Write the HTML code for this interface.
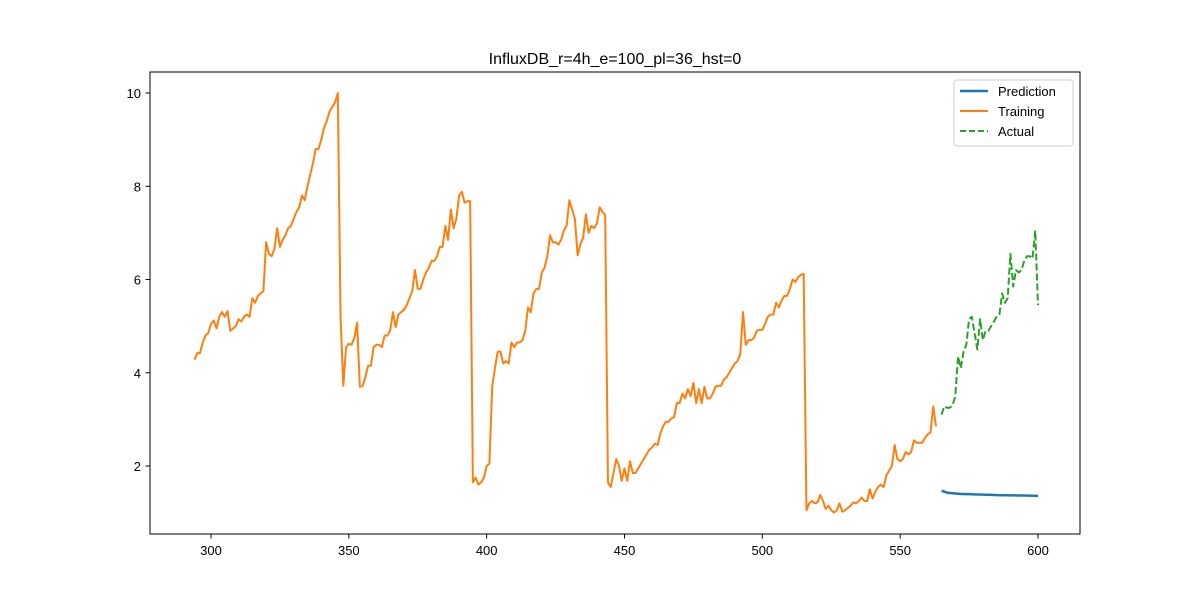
<!DOCTYPE html>
<html><head><meta charset="utf-8"><style>
body{margin:0;background:#fff;}
svg{font-family:"Liberation Sans","DejaVu Sans",sans-serif;}
</style></head><body>
<svg id="chart" width="1200" height="600" xmlns="http://www.w3.org/2000/svg">
<rect width="1200" height="600" fill="#fff"/>
<text x="615" y="64" font-size="16" text-anchor="middle" fill="#000">InfluxDB_r=4h_e=100_pl=36_hst=0</text>
<g id="axes"></g>
<g id="series"></g>
<rect x="150" y="72" width="930" height="462" fill="none" stroke="#000" stroke-width="1"/>
<g>
<rect x="954" y="80" width="119" height="66" fill="#fff" stroke="#ccc" rx="3"/>
<g><line x1="960" y1="91" x2="988" y2="91" stroke="#1f77b4" stroke-width="2.5"/><text x="998" y="96" font-size="13">Prediction</text></g>
<g><line x1="960" y1="111" x2="988" y2="111" stroke="#ff7f0e" stroke-width="2"/><text x="998" y="116" font-size="13">Training</text></g>
<g><line x1="960" y1="131" x2="988" y2="131" stroke="#2ca02c" stroke-width="2" stroke-dasharray="6,3"/><text x="998" y="136" font-size="13">Actual</text></g>
</g>
</svg>
<script>
const trainingStart = 294;
const trainingValues = [4.28,4.42,4.42,4.65,4.8,4.85,5.05,5.12,4.95,5.2,5.3,5.2,5.32,4.9,4.95,5.0,5.15,5.1,5.2,5.25,5.2,5.6,5.5,5.65,5.7,5.75,6.8,6.55,6.5,6.65,7.1,6.7,6.85,6.95,7.1,7.15,7.3,7.45,7.55,7.8,7.7,8.0,8.25,8.5,8.8,8.8,9.0,9.25,9.4,9.6,9.7,9.8,10.0,
5.2,3.72,4.55,4.62,4.6,4.75,5.07,3.7,3.72,3.9,4.15,4.15,4.55,4.6,4.6,4.55,4.8,4.8,4.9,5.3,4.98,5.25,5.3,5.35,5.45,5.6,5.75,6.2,5.8,5.8,6.0,6.15,6.25,6.4,6.4,6.5,6.7,6.7,7.15,6.85,7.5,7.1,7.3,7.8,7.88,7.65,7.68,7.68,
1.65,1.75,1.6,1.65,1.75,2.0,2.05,3.7,4.1,4.45,4.45,4.2,4.25,4.2,4.65,4.55,4.65,4.65,4.7,4.9,5.4,5.3,5.7,5.8,5.8,6.15,6.25,6.5,6.95,6.8,6.8,6.75,6.85,7.05,7.15,7.7,7.5,7.3,6.52,6.75,6.9,7.4,7.0,7.15,7.1,7.2,7.55,7.45,7.38,
1.65,1.55,1.85,2.15,2.0,1.68,1.95,1.68,2.1,1.85,1.85,1.95,2.05,2.15,2.25,2.35,2.4,2.48,2.45,2.7,2.85,2.95,2.95,3.02,3.05,3.35,3.35,3.55,3.45,3.65,3.5,3.78,3.35,3.65,3.35,3.7,3.45,3.45,3.55,3.7,3.72,3.72,3.85,3.9,4.0,4.1,4.2,4.25,4.4,5.3,4.6,4.7,4.7,4.75,4.9,4.92,4.92,5.05,5.2,5.25,5.25,5.5,5.4,5.55,5.65,5.65,5.8,6.0,5.95,6.05,6.1,6.12,
1.05,1.2,1.25,1.2,1.22,1.38,1.25,1.08,1.15,1.05,1.0,1.05,1.2,1.02,1.05,1.1,1.15,1.22,1.2,1.25,1.32,1.25,1.25,1.5,1.3,1.45,1.55,1.6,1.55,1.8,1.9,2.0,2.45,2.15,2.1,2.15,2.3,2.25,2.3,2.55,2.5,2.5,2.5,2.6,2.68,2.72,3.28,2.85];
const forecastStart = 565;
const actualValues = [3.1,3.28,3.25,3.25,3.3,3.5,4.35,4.1,4.45,4.6,5.15,5.2,4.85,4.5,5.15,4.7,4.9,4.9,5.0,5.1,5.2,5.25,5.7,5.5,5.6,6.55,5.85,6.2,6.15,6.2,6.4,6.5,6.5,6.45,7.05,5.45];
const predictionValues = [1.47,1.45,1.43,1.42,1.415,1.41,1.405,1.40,1.40,1.398,1.396,1.394,1.392,1.39,1.388,1.386,1.384,1.382,1.38,1.378,1.376,1.375,1.374,1.373,1.372,1.371,1.37,1.369,1.368,1.367,1.366,1.365,1.364,1.363,1.362,1.36];
const xTicks = [300,350,400,450,500,550,600];
const yTicks = [2,4,6,8,10];

const X = v => 211 + (v - 300) * (827 / 300);
const Y = v => 466 - (v - 2) * (373 / 8);
const NS = "http://www.w3.org/2000/svg";
const axes = document.getElementById('axes');
const series = document.getElementById('series');
function mk(tag, attrs, parent){const e=document.createElementNS(NS,tag);for(const k in attrs)e.setAttribute(k,attrs[k]);parent.appendChild(e);return e;}
xTicks.forEach(t=>{
  const g = mk('g',{},axes);
  
  
  mk('line',{x1:X(t),x2:X(t),y1:534,y2:538.5,stroke:'#000'},g);
  const tx = mk('text',{x:X(t),y:555,'font-size':13,'text-anchor':'middle'},g);
  tx.textContent = t;
});
yTicks.forEach(t=>{
  const g = mk('g',{},axes);
  
  
  mk('line',{x1:145.5,x2:150,y1:Y(t),y2:Y(t),stroke:'#000'},g);
  const tx = mk('text',{x:141,y:Y(t)+5,'font-size':13,'text-anchor':'end'},g);
  tx.textContent = t;
});
function line(vals, start, color, w, dash, name){
  const d = vals.map((v,i)=>(i?'L':'M')+X(start+i).toFixed(2)+','+Y(v).toFixed(2)).join('');
  const p = mk('path',{d:d,fill:'none',stroke:color,'stroke-width':w,'stroke-linejoin':'round'},series);
  if(dash) p.setAttribute('stroke-dasharray',dash);
  
  
}
line(trainingValues, trainingStart, '#ff7f0e', 2, null, 'training-line');
line(actualValues, forecastStart, '#2ca02c', 2, '7,3', 'actual-line');
line(predictionValues, forecastStart, '#1f77b4', 2.5, null, 'prediction-line');
</script>
</body></html>
